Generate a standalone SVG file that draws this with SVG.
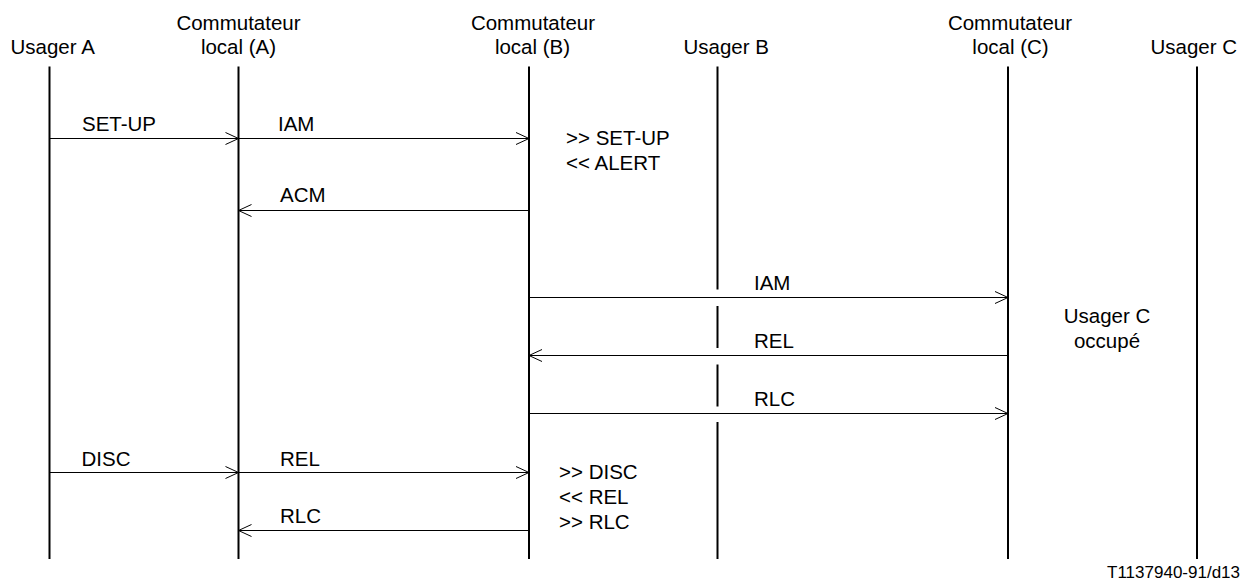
<svg xmlns="http://www.w3.org/2000/svg" width="1252" height="585" viewBox="0 0 1252 585">
<style>
text{font-family:"Liberation Sans",Arial,sans-serif;font-size:20.5px;fill:#000}
.life{stroke:#000;stroke-width:2;fill:none}
.msg{stroke:#000;stroke-width:1;fill:none;marker-end:url(#ah)}
.mid{text-anchor:middle}
.ref{font-size:17px;text-anchor:end}
</style>
<defs>
<marker id="ah" markerUnits="userSpaceOnUse" markerWidth="16" markerHeight="14" refX="13" refY="6" orient="auto" viewBox="-1 -1 16 14">
<path d="M0,0 L13,6 L0,12" fill="none" stroke="#000" stroke-width="1"/>
</marker>
</defs>
<rect width="1252" height="585" fill="#fff"/>
<g id="usagerA">
<text x="10.5" y="54">Usager A</text>
<line class="life" x1="49.5" y1="66.5" x2="49.5" y2="559"/>
</g>
<g id="commA">
<text class="mid" x="238.5" y="30">Commutateur</text>
<text class="mid" x="238.5" y="54">local (A)</text>
<line class="life" x1="238.5" y1="66.5" x2="238.5" y2="559"/>
</g>
<g id="commB">
<text class="mid" x="533" y="30">Commutateur</text>
<text class="mid" x="532.5" y="54">local (B)</text>
<line class="life" x1="529" y1="66.5" x2="529" y2="559"/>
<text x="566" y="145">&gt;&gt; SET-UP</text>
<text x="566" y="170">&lt;&lt; ALERT</text>
<text x="559" y="479">&gt;&gt; DISC</text>
<text x="559" y="504">&lt;&lt; REL</text>
<text x="559" y="529">&gt;&gt; RLC</text>
</g>
<g id="usagerB">
<text x="683.5" y="54">Usager B</text>
<path class="life" d="M717.5,66.5 V289.5 M717.5,306 V348 M717.5,364.5 V406.5 M717.5,422 V559"/>
</g>
<g id="commC">
<text class="mid" x="1010" y="30">Commutateur</text>
<text class="mid" x="1010.5" y="54">local (C)</text>
<line class="life" x1="1008" y1="66.5" x2="1008" y2="559"/>
</g>
<g id="usagerC">
<text x="1150.5" y="54">Usager C</text>
<line class="life" x1="1197" y1="66.5" x2="1197" y2="559"/>
<text class="mid" x="1107" y="323">Usager C</text>
<text class="mid" x="1107" y="348">occupé</text>
</g>
<g id="connectors">
<line class="msg" x1="49.5" y1="138.5" x2="238.5" y2="138.5"/>
<text x="82" y="131">SET-UP</text>
<line class="msg" x1="238.5" y1="138.5" x2="529" y2="138.5"/>
<text x="278" y="131">IAM</text>
<line class="msg" x1="529" y1="210.5" x2="238.5" y2="210.5"/>
<text x="280" y="202">ACM</text>
<line class="msg" x1="529" y1="297.5" x2="1008" y2="297.5"/>
<text x="754" y="290">IAM</text>
<line class="msg" x1="1008" y1="355.5" x2="529" y2="355.5"/>
<text x="754" y="348">REL</text>
<line class="msg" x1="529" y1="413.5" x2="1008" y2="413.5"/>
<text x="754" y="406">RLC</text>
<line class="msg" x1="49.5" y1="472.5" x2="238.5" y2="472.5"/>
<text x="81.5" y="466">DISC</text>
<line class="msg" x1="238.5" y1="472.5" x2="529" y2="472.5"/>
<text x="280" y="466">REL</text>
<line class="msg" x1="529" y1="530.5" x2="238.5" y2="530.5"/>
<text x="280" y="523">RLC</text>
</g>
<text class="ref" x="1240" y="578">T1137940-91/d13</text>
</svg>
